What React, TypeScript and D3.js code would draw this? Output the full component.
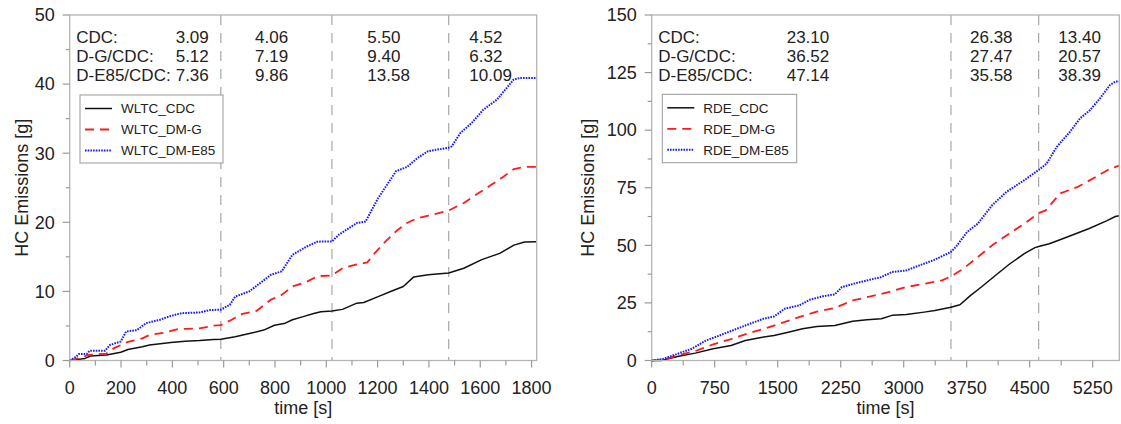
import React from "react";
import * as d3 from "d3";

// ---------- DATA ----------
const wltcPhases = [589, 1022, 1477];
const rdePhases = [3563, 4607];

const wltcLabels = ["CDC:", "D-G/CDC:", "D-E85/CDC:"];
const rdeLabels = ["CDC:", "D-G/CDC:", "D-E85/CDC:"];
const wltcPhaseValues = [
  ["3.09", "4.06", "5.50", "4.52"],
  ["5.12", "7.19", "9.40", "6.32"],
  ["7.36", "9.86", "13.58", "10.09"],
];
const rdePhaseValues = [
  ["23.10", "26.38", "13.40"],
  ["36.52", "27.47", "20.57"],
  ["47.14", "35.58", "38.39"],
];

const wltcSeriesNames = ["WLTC_CDC", "WLTC_DM-G", "WLTC_DM-E85"];
const rdeSeriesNames = ["RDE_CDC", "RDE_DM-G", "RDE_DM-E85"];

const wltcXTicks = [0, 200, 400, 600, 800, 1000, 1200, 1400, 1600, 1800];
const wltcYTicks = [0, 10, 20, 30, 40, 50];
const rdeXTicks = [0, 750, 1500, 2250, 3000, 3750, 4500, 5250];
const rdeYTicks = [0, 25, 50, 75, 100, 125, 150];

const wltcCDC: [number, number][] = [
  [0, 0], [60, 0.3], [81, 0.65], [143, 0.8], [199, 1.2], [227, 1.6], [283, 2.0], [311, 2.25],
  [394, 2.6], [450, 2.8], [506, 2.9], [561, 3.05], [589, 3.09], [645, 3.45], [700, 3.9],
  [756, 4.4], [798, 5.1], [840, 5.4], [868, 5.9], [910, 6.35], [951, 6.8], [979, 7.05],
  [1022, 7.15], [1063, 7.4], [1119, 8.3], [1146, 8.4], [1202, 9.25], [1258, 10.1],
  [1300, 10.7], [1341, 12.1], [1397, 12.4], [1477, 12.65], [1536, 13.35], [1606, 14.6],
  [1676, 15.5], [1731, 16.7], [1773, 17.15], [1818, 17.17],
];
const wltcDMG: [number, number][] = [
  [0, 0], [46, 0.45], [74, 0.8], [143, 1.0], [171, 1.75], [227, 2.7], [283, 3.2], [311, 3.7],
  [366, 4.0], [422, 4.55], [506, 4.65], [561, 5.05], [589, 5.12], [631, 5.9], [673, 6.75],
  [729, 7.2], [784, 8.8], [826, 9.5], [868, 10.7], [924, 11.4], [965, 12.2], [1022, 12.31],
  [1063, 13.35], [1119, 13.9], [1160, 14.2], [1188, 15.5], [1230, 17.2], [1272, 18.7],
  [1314, 19.9], [1355, 20.6], [1397, 20.95], [1477, 21.71], [1536, 22.8], [1592, 24.2],
  [1634, 25.2], [1690, 26.6], [1731, 27.7], [1770, 28.0], [1818, 28.03],
];
const wltcDME85: [number, number][] = [
  [0, 0], [25, 0.55], [35, 0.95], [67, 0.95], [77, 1.4], [137, 1.4], [157, 2.25], [199, 2.75],
  [220, 4.2], [262, 4.4], [297, 5.4], [352, 5.9], [394, 6.45], [436, 6.85], [506, 6.95],
  [547, 7.3], [589, 7.36], [624, 8.05], [645, 9.25], [700, 10.0], [742, 11.2], [784, 12.4],
  [826, 12.9], [868, 15.3], [924, 16.5], [965, 17.2], [1022, 17.22], [1049, 18.2],
  [1119, 19.9], [1153, 20.1], [1202, 23.5], [1272, 27.4], [1314, 28.0], [1355, 29.3],
  [1397, 30.3], [1477, 30.8], [1489, 31.0], [1522, 32.9], [1567, 34.4], [1612, 36.3],
  [1665, 37.75], [1730, 40.65], [1755, 40.89], [1818, 40.89],
];

const rdeCDC: [number, number][] = [
  [0, 0], [115, 0], [306, 1.7], [519, 3.2], [732, 5.1], [945, 6.5], [1115, 8.7], [1286, 9.9],
  [1456, 10.9], [1626, 12.3], [1796, 13.8], [1967, 14.8], [2180, 15.2], [2392, 17.0],
  [2563, 17.7], [2733, 18.1], [2861, 19.6], [3031, 20.0], [3244, 21.0], [3372, 21.7],
  [3563, 23.1], [3670, 24.2], [3797, 28.3], [3925, 31.9], [4095, 37.0], [4265, 42.0],
  [4436, 46.4], [4563, 49.0], [4607, 49.48], [4734, 50.7], [4947, 53.6], [5202, 57.2],
  [5415, 60.6], [5520, 62.5], [5565, 62.88],
];
const rdeDMG: [number, number][] = [
  [0, 0], [136, 0.3], [306, 2.2], [519, 4.1], [732, 7.0], [945, 9.3], [1158, 11.9],
  [1371, 14.2], [1541, 16.2], [1754, 18.8], [1967, 21.2], [2180, 22.8], [2392, 26.1],
  [2605, 27.8], [2818, 29.7], [3031, 31.9], [3244, 33.3], [3457, 34.8], [3563, 36.52],
  [3712, 39.9], [3882, 44.9], [4053, 50.0], [4223, 54.3], [4436, 59.4], [4607, 63.99],
  [4691, 65.2], [4862, 72.5], [5074, 75.4], [5287, 79.7], [5457, 83.3], [5565, 84.56],
];
const rdeDME85: [number, number][] = [
  [0, 0], [136, 0.7], [306, 2.9], [477, 5.1], [647, 8.7], [775, 10.4], [945, 12.8],
  [1115, 15.2], [1328, 18.1], [1456, 19.1], [1584, 22.5], [1754, 23.9], [1882, 26.4],
  [2052, 28.0], [2180, 28.7], [2265, 31.9], [2435, 33.6], [2648, 35.5], [2733, 36.2],
  [2861, 38.4], [3031, 39.1], [3159, 40.9], [3372, 43.8], [3563, 47.14], [3627, 49.6],
  [3755, 55.8], [3882, 59.4], [4053, 67.4], [4223, 73.2], [4436, 78.3], [4607, 82.72],
  [4702, 85.5], [4821, 92.7], [4980, 99.3], [5099, 105.1], [5218, 108.7], [5337, 113.8],
  [5456, 119.6], [5520, 121.1], [5565, 121.11],
];

// ---------- STYLE ----------
const FONT = "'Liberation Sans', Arial, sans-serif";
const TEXT = "#222";
const FRAME = "#b4b4b4";
const TICK = "#9a9a9a";
const seriesStyles = [
  { color: "#111", dash: "none", width: 1.5 },
  { color: "#ff1a1a", dash: "9,6", width: 1.8 },
  { color: "#1a1aff", dash: "1.6,1.1", width: 2 },
];

type PanelProps = {
  left: number;
  right: number;
  top: number;
  bottom: number;
  xMax: number;
  yMax: number;
  xTicks: number[];
  xMinorStep: number;
  yTicks: number[];
  yMinorStep: number;
  phases: number[];
  series: [number, number][][];
  names: string[];
  labels: string[];
  values: string[][];
  valueX: number[];
  legend: { x: number; y: number; w: number; h: number };
  yTitleX: number;
};

function Panel(p: PanelProps) {
  const x = d3.scaleLinear().domain([0, p.xMax]).range([p.left, p.right]);
  const y = d3.scaleLinear().domain([0, p.yMax]).range([p.bottom, p.top]);
  const line = d3
    .line<[number, number]>()
    .x((d) => x(d[0]))
    .y((d) => y(d[1]));
  const xMinor = d3.range(0, p.xMax + 1e-6, p.xMinorStep).filter((v) => !p.xTicks.includes(v));
  const yMinor = d3.range(0, p.yMax + 1e-6, p.yMinorStep).filter((v) => !p.yTicks.includes(v));
  const rowY = [42.5, 62, 81];
  const legRowY = [p.legend.y + 13.5, p.legend.y + 34.5, p.legend.y + 55.5];
  return (
    <g>
      {/* phase lines */}
      {p.phases.map((t, i) => (
        <line key={"ph" + i} x1={x(t)} x2={x(t)} y1={p.top} y2={p.bottom} stroke="#a8a8a8" strokeWidth={1.2} strokeDasharray="10,8" />
      ))}
      {/* series */}
      {p.series.map((s, i) => (
        <path
          key={"s" + i}
          d={line(s) || ""}
          fill="none"
          stroke={seriesStyles[i].color}
          strokeWidth={seriesStyles[i].width}
          strokeDasharray={seriesStyles[i].dash}
          strokeLinejoin="round"
        />
      ))}
      {/* frame */}
      <rect x={p.left} y={p.top} width={p.right - p.left} height={p.bottom - p.top} fill="none" stroke={FRAME} strokeWidth={1.3} />
      {/* x ticks */}
      {p.xTicks.map((t) => (
        <g key={"xt" + t}>
          <line x1={x(t)} x2={x(t)} y1={p.bottom} y2={p.bottom + 7} stroke={TICK} strokeWidth={1.2} />
          <text x={x(t)} y={p.bottom + 33} textAnchor="middle" fontSize={18} fill={TEXT} fontFamily={FONT}>
            {t}
          </text>
        </g>
      ))}
      {xMinor.map((t) => (
        <line key={"xm" + t} x1={x(t)} x2={x(t)} y1={p.bottom} y2={p.bottom + 5} stroke={TICK} strokeWidth={1.2} />
      ))}
      {/* y ticks */}
      {p.yTicks.map((v) => (
        <g key={"yt" + v}>
          <line x1={p.left - 7} x2={p.left} y1={y(v)} y2={y(v)} stroke={TICK} strokeWidth={1.2} />
          <text x={p.left - 15} y={y(v)} dy="0.35em" textAnchor="end" fontSize={18} fill={TEXT} fontFamily={FONT}>
            {v}
          </text>
        </g>
      ))}
      {yMinor.map((v) => (
        <line key={"ym" + v} x1={p.left - 4} x2={p.left} y1={y(v)} y2={y(v)} stroke={TICK} strokeWidth={1.2} />
      ))}
      {/* axis titles */}
      <text x={(p.left + p.right) / 2} y={414} textAnchor="middle" fontSize={18} fill={TEXT} fontFamily={FONT}>
        time [s]
      </text>
      <text
        transform={`translate(${p.yTitleX},${(p.top + p.bottom) / 2}) rotate(-90)`}
        textAnchor="middle"
        fontSize={18}
        fill={TEXT}
        fontFamily={FONT}
      >
        HC Emissions [g]
      </text>
      {/* annotations */}
      {p.labels.map((lab, r) => (
        <g key={"an" + r}>
          <text x={p.left + 6.5} y={rowY[r]} fontSize={17} fill={TEXT} fontFamily={FONT}>
            {lab}
          </text>
          {p.values[r].map((v, c) => (
            <text key={c} x={p.valueX[c]} y={rowY[r]} fontSize={17} fill={TEXT} fontFamily={FONT}>
              {v}
            </text>
          ))}
        </g>
      ))}
      {/* legend */}
      <rect x={p.legend.x} y={p.legend.y} width={p.legend.w} height={p.legend.h} fill="#fff" stroke="#999" strokeWidth={1} />
      {p.names.map((n, i) => (
        <g key={"lg" + i}>
          <line
            x1={p.legend.x + 5}
            x2={p.legend.x + 32}
            y1={legRowY[i]}
            y2={legRowY[i]}
            stroke={seriesStyles[i].color}
            strokeWidth={seriesStyles[i].width}
            strokeDasharray={seriesStyles[i].dash}
          />
          <text x={p.legend.x + 41} y={legRowY[i]} dy="0.35em" fontSize={13.5} fill={TEXT} fontFamily={FONT}>
            {n}
          </text>
        </g>
      ))}
    </g>
  );
}

export default function App() {
  return (
    <svg
      width={1121}
      height={424}
      style={{ position: "absolute", left: 0, top: 0, background: "#fff" }}
    >
      <Panel
        left={69.7}
        right={536.7}
        top={15}
        bottom={360.5}
        xMax={1820}
        yMax={50}
        xTicks={wltcXTicks}
        xMinorStep={100}
        yTicks={wltcYTicks}
        yMinorStep={5}
        phases={wltcPhases}
        series={[wltcCDC, wltcDMG, wltcDME85]}
        names={wltcSeriesNames}
        labels={wltcLabels}
        values={wltcPhaseValues}
        valueX={[175.7, 255, 367.3, 469.3]}
        legend={{ x: 80, y: 95, w: 143, h: 68 }}
        yTitleX={28}
      />
      <Panel
        left={651.7}
        right={1119.3}
        top={15}
        bottom={360.5}
        xMax={5567}
        yMax={150}
        xTicks={rdeXTicks}
        xMinorStep={375}
        yTicks={rdeYTicks}
        yMinorStep={12.5}
        phases={rdePhases}
        series={[rdeCDC, rdeDMG, rdeDME85]}
        names={rdeSeriesNames}
        labels={rdeLabels}
        values={rdePhaseValues}
        valueX={[786.7, 970, 1058.3]}
        legend={{ x: 662.3, y: 94.3, w: 134.4, h: 68.4 }}
        yTitleX={594}
      />
    </svg>
  );
}
